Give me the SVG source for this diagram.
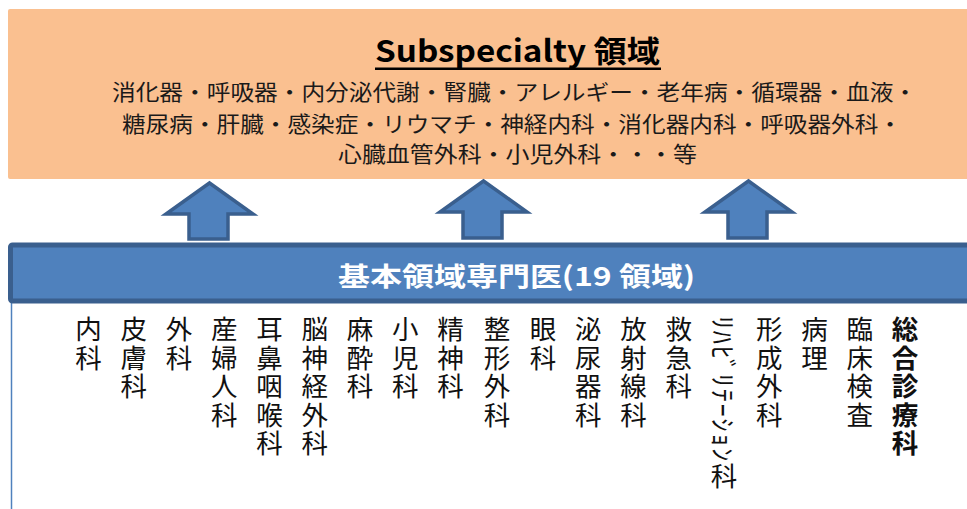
<svg xmlns="http://www.w3.org/2000/svg" width="967" height="509" viewBox="0 0 967 509">
<style>
.jp{font-family:"Noto Sans CJK JP","Noto Sans CJK SC",sans-serif;}
.body{font-size:21.5px;fill:#1a1a1a;}
.col{font-family:"Noto Sans CJK JP",sans-serif;font-size:26.5px;fill:#111;writing-mode:vertical-rl;letter-spacing:2px;}
.arrow{fill:#4F81BD;stroke:#3A5F8E;stroke-width:3.5;stroke-linejoin:miter;}
</style>
<rect width="967" height="509" fill="#ffffff"/>
<g id="subspecialty">
  <rect x="8" y="9" width="965" height="170" rx="2" fill="#FAC090"/>
  <text class="jp" x="517.5" y="62" text-anchor="middle" font-size="30" font-weight="bold" fill="#000" textLength="285" lengthAdjust="spacingAndGlyphs">Subspecialty 領域</text>
  <rect x="375" y="67.5" width="286" height="2.5" fill="#000"/>
  <text class="jp body" x="514.5" y="100" text-anchor="middle" textLength="805" lengthAdjust="spacingAndGlyphs">消化器・呼吸器・内分泌代謝・腎臓・アレルギー・老年病・循環器・血液・</text>
  <text class="jp body" x="512" y="132" text-anchor="middle" textLength="780" lengthAdjust="spacingAndGlyphs">糖尿病・肝臓・感染症・リウマチ・神経内科・消化器内科・呼吸器外科・</text>
  <text class="jp body" x="517.5" y="161.5" text-anchor="middle" textLength="359" lengthAdjust="spacingAndGlyphs">心臓血管外科・小児外科・・・等</text>
</g>
<g id="connectors">
  <path class="arrow" d="M209.5,183 L253,214 L228,214 L228,239 L189,239 L189,214 L166,214 Z"/>
  <path class="arrow" d="M483.5,181 L527,212 L502,212 L502,238 L463,238 L463,212 L440,212 Z"/>
  <path class="arrow" d="M748.5,181 L792,212 L767,212 L767,238 L728,238 L728,212 L705,212 Z"/>
</g>
<g id="basic">
  <line x1="11.5" y1="300" x2="11.5" y2="509" stroke="#4F81BD" stroke-width="1.5"/>
  <rect x="10.5" y="245" width="965" height="56" rx="2" fill="#4F81BD" stroke="#3A5F8E" stroke-width="5"/>
  <text class="jp" x="516.5" y="286" text-anchor="middle" font-size="26" font-weight="bold" fill="#ffffff" textLength="357" lengthAdjust="spacingAndGlyphs">基本領域専門医(19 領域)</text>
</g>
<g id="fields">
  <text class="col" x="88.5" y="316">内科</text>
  <text class="col" x="133.8" y="316">皮膚科</text>
  <text class="col" x="179" y="316">外科</text>
  <text class="col" x="224.3" y="316">産婦人科</text>
  <text class="col" x="269.5" y="316">耳鼻咽喉科</text>
  <text class="col" x="314.8" y="316">脳神経外科</text>
  <text class="col" x="360" y="316">麻酔科</text>
  <text class="col" x="405.3" y="316">小児科</text>
  <text class="col" x="450.5" y="316">精神科</text>
  <text class="col" x="497" y="316">整形外科</text>
  <text class="col" x="543" y="316">眼科</text>
  <text class="col" x="588.3" y="316">泌尿器科</text>
  <text class="col" x="633.5" y="316">放射線科</text>
  <text class="col" x="678.8" y="316">救急科</text>
  <text class="col" x="724" y="316" style="letter-spacing:1.6px">ﾘﾊﾋﾞﾘﾃｰｼｮﾝ科</text>
  <text class="col" x="769.3" y="316">形成外科</text>
  <text class="col" x="814.5" y="316">病理</text>
  <text class="col" x="859.8" y="316">臨床検査</text>
  <text class="col" x="905" y="316" font-weight="bold" fill="#000">総合診療科</text>
</g>
</svg>
